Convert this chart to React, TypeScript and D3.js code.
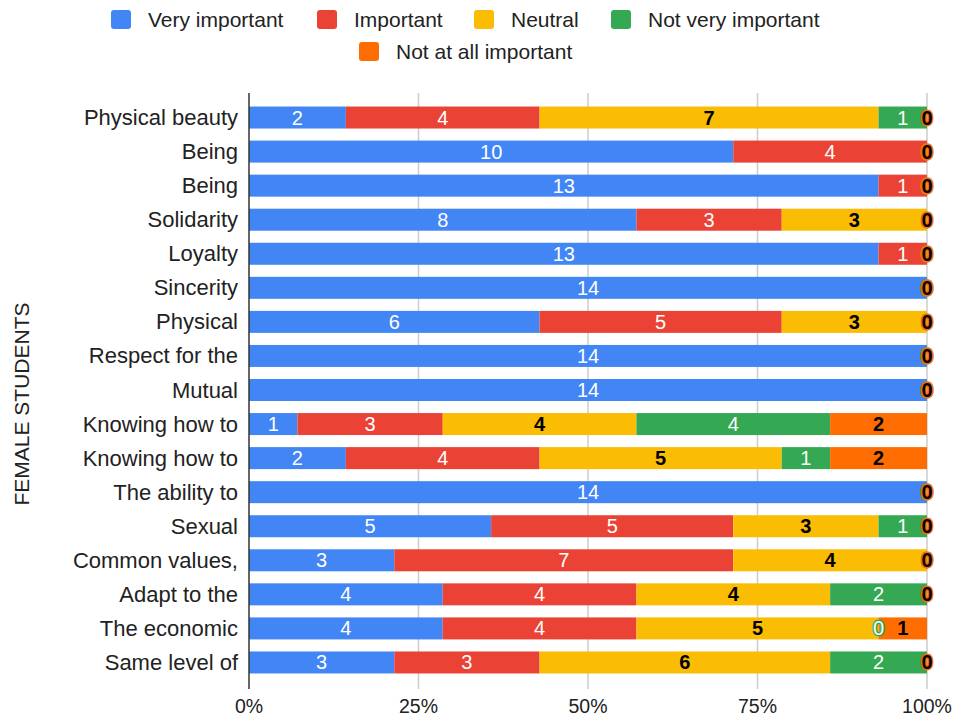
import React from "react";
import * as d3 from "d3";

const categories = [
  "Physical beauty", "Being", "Being", "Solidarity", "Loyalty", "Sincerity", "Physical",
  "Respect for the", "Mutual", "Knowing how to", "Knowing how to", "The ability to",
  "Sexual", "Common values,", "Adapt to the", "The economic", "Same level of",
];
const seriesNames = ["Very important", "Important", "Neutral", "Not very important", "Not at all important"];
const colors = ["#4285f4", "#ea4335", "#fbbc04", "#34a853", "#ff6d01"];
const labelColors = ["#ffffff", "#ffffff", "#000000", "#ffffff", "#000000"];

const veryImportant = [2, 10, 13, 8, 13, 14, 6, 14, 14, 1, 2, 14, 5, 3, 4, 4, 3];
const important = [4, 4, 1, 3, 1, 0, 5, 0, 0, 3, 4, 0, 5, 7, 4, 4, 3];
const neutral = [7, 0, 0, 3, 0, 0, 3, 0, 0, 4, 5, 0, 3, 4, 4, 5, 6];
const notVeryImportant = [1, 0, 0, 0, 0, 0, 0, 0, 0, 4, 1, 0, 1, 0, 2, 0, 2];
const notAtAllImportant = [0, 0, 0, 0, 0, 0, 0, 0, 0, 2, 2, 0, 0, 0, 0, 1, 0];
const ticks = [0, 0.25, 0.5, 0.75, 1];

const series = [veryImportant, important, neutral, notVeryImportant, notAtAllImportant];

export default function App() {
  const W = 953, H = 718;
  const x = d3.scaleLinear().domain([0, 1]).range([249, 927]);
  const idx = categories.map((_, i) => i);
  const y = d3.scaleBand<number>().domain(idx).range([100.5, 679.5]).paddingInner(0.354).paddingOuter(0.177);
  const bw = y.bandwidth();
  const font = "Arial, 'Liberation Sans', sans-serif";

  const legendItems = [
    { i: 0, x: 111, y: 10 }, { i: 1, x: 317, y: 10 }, { i: 2, x: 474, y: 10 }, { i: 3, x: 611, y: 10 },
    { i: 4, x: 359, y: 42 },
  ];

  return (
    <svg width={W} height={H} style={{ position: "absolute", left: 0, top: 0, background: "#fff" }} fontFamily={font}>
      {/* legend */}
      {legendItems.map((l) => (
        <g key={l.i}>
          <rect x={l.x} y={l.y} width={20} height={19} rx={3} fill={colors[l.i]} />
          <text x={l.x + 37} y={l.y + 17} fontSize={21} fill="#222">{seriesNames[l.i]}</text>
        </g>
      ))}
      {/* gridlines */}
      {ticks.map((t) => (
        <g key={t}>
          {t > 0 && <line x1={x(t)} x2={x(t)} y1={93} y2={689} stroke="#cccccc" strokeWidth={1.5} />}
          <text x={x(t)} y={713} fontSize={19.5} textAnchor="middle" fill="#222">{d3.format(".0%")(t)}</text>
        </g>
      ))}
      {/* bars */}
      {idx.map((r) => {
        const total = d3.sum(series, (s) => s[r]);
        let acc = 0;
        const segs = series.map((s, k) => {
          const v = s[r];
          const x0 = x(acc / total);
          acc += v;
          const x1 = x(acc / total);
          return { k, v, x0, x1 };
        });
        return (
          <g key={r}>
            {segs.map((s) => s.v > 0 && (
              <rect key={s.k} x={s.x0} y={y(r)!} width={s.x1 - s.x0} height={bw} fill={colors[s.k]} />
            ))}
          </g>
        );
      })}
      {/* zero axis */}
      <line x1={x(0)} x2={x(0)} y1={93} y2={689} stroke="#333" strokeWidth={1.5} />
      {/* labels */}
      {idx.map((r) => {
        const total = d3.sum(series, (s) => s[r]);
        let acc = 0;
        return (
          <g key={"l" + r}>
            {series.map((s, k) => {
              const v = s[r];
              const x0 = x(acc / total);
              acc += v;
              const x1 = x(acc / total);
              return (
                <text key={k} x={(x0 + x1) / 2} y={y(r)! + bw / 2 + 7} fontSize={20} textAnchor="middle"
                  fill={labelColors[k]} stroke={colors[k]} strokeWidth={3} paintOrder="stroke"
                  fontWeight={k === 2 || k === 4 ? "bold" : "normal"}>
                  {v}
                </text>
              );
            })}
          </g>
        );
      })}
      {/* category labels */}
      {idx.map((r) => (
        <text key={"c" + r} x={238} y={y(r)! + bw / 2 + 7.5} fontSize={22} textAnchor="end" fill="#222">
          {categories[r]}
        </text>
      ))}
      <text transform={`translate(29,404) rotate(-90)`} fontSize={21} textAnchor="middle" fill="#222">
        FEMALE STUDENTS
      </text>
    </svg>
  );
}
